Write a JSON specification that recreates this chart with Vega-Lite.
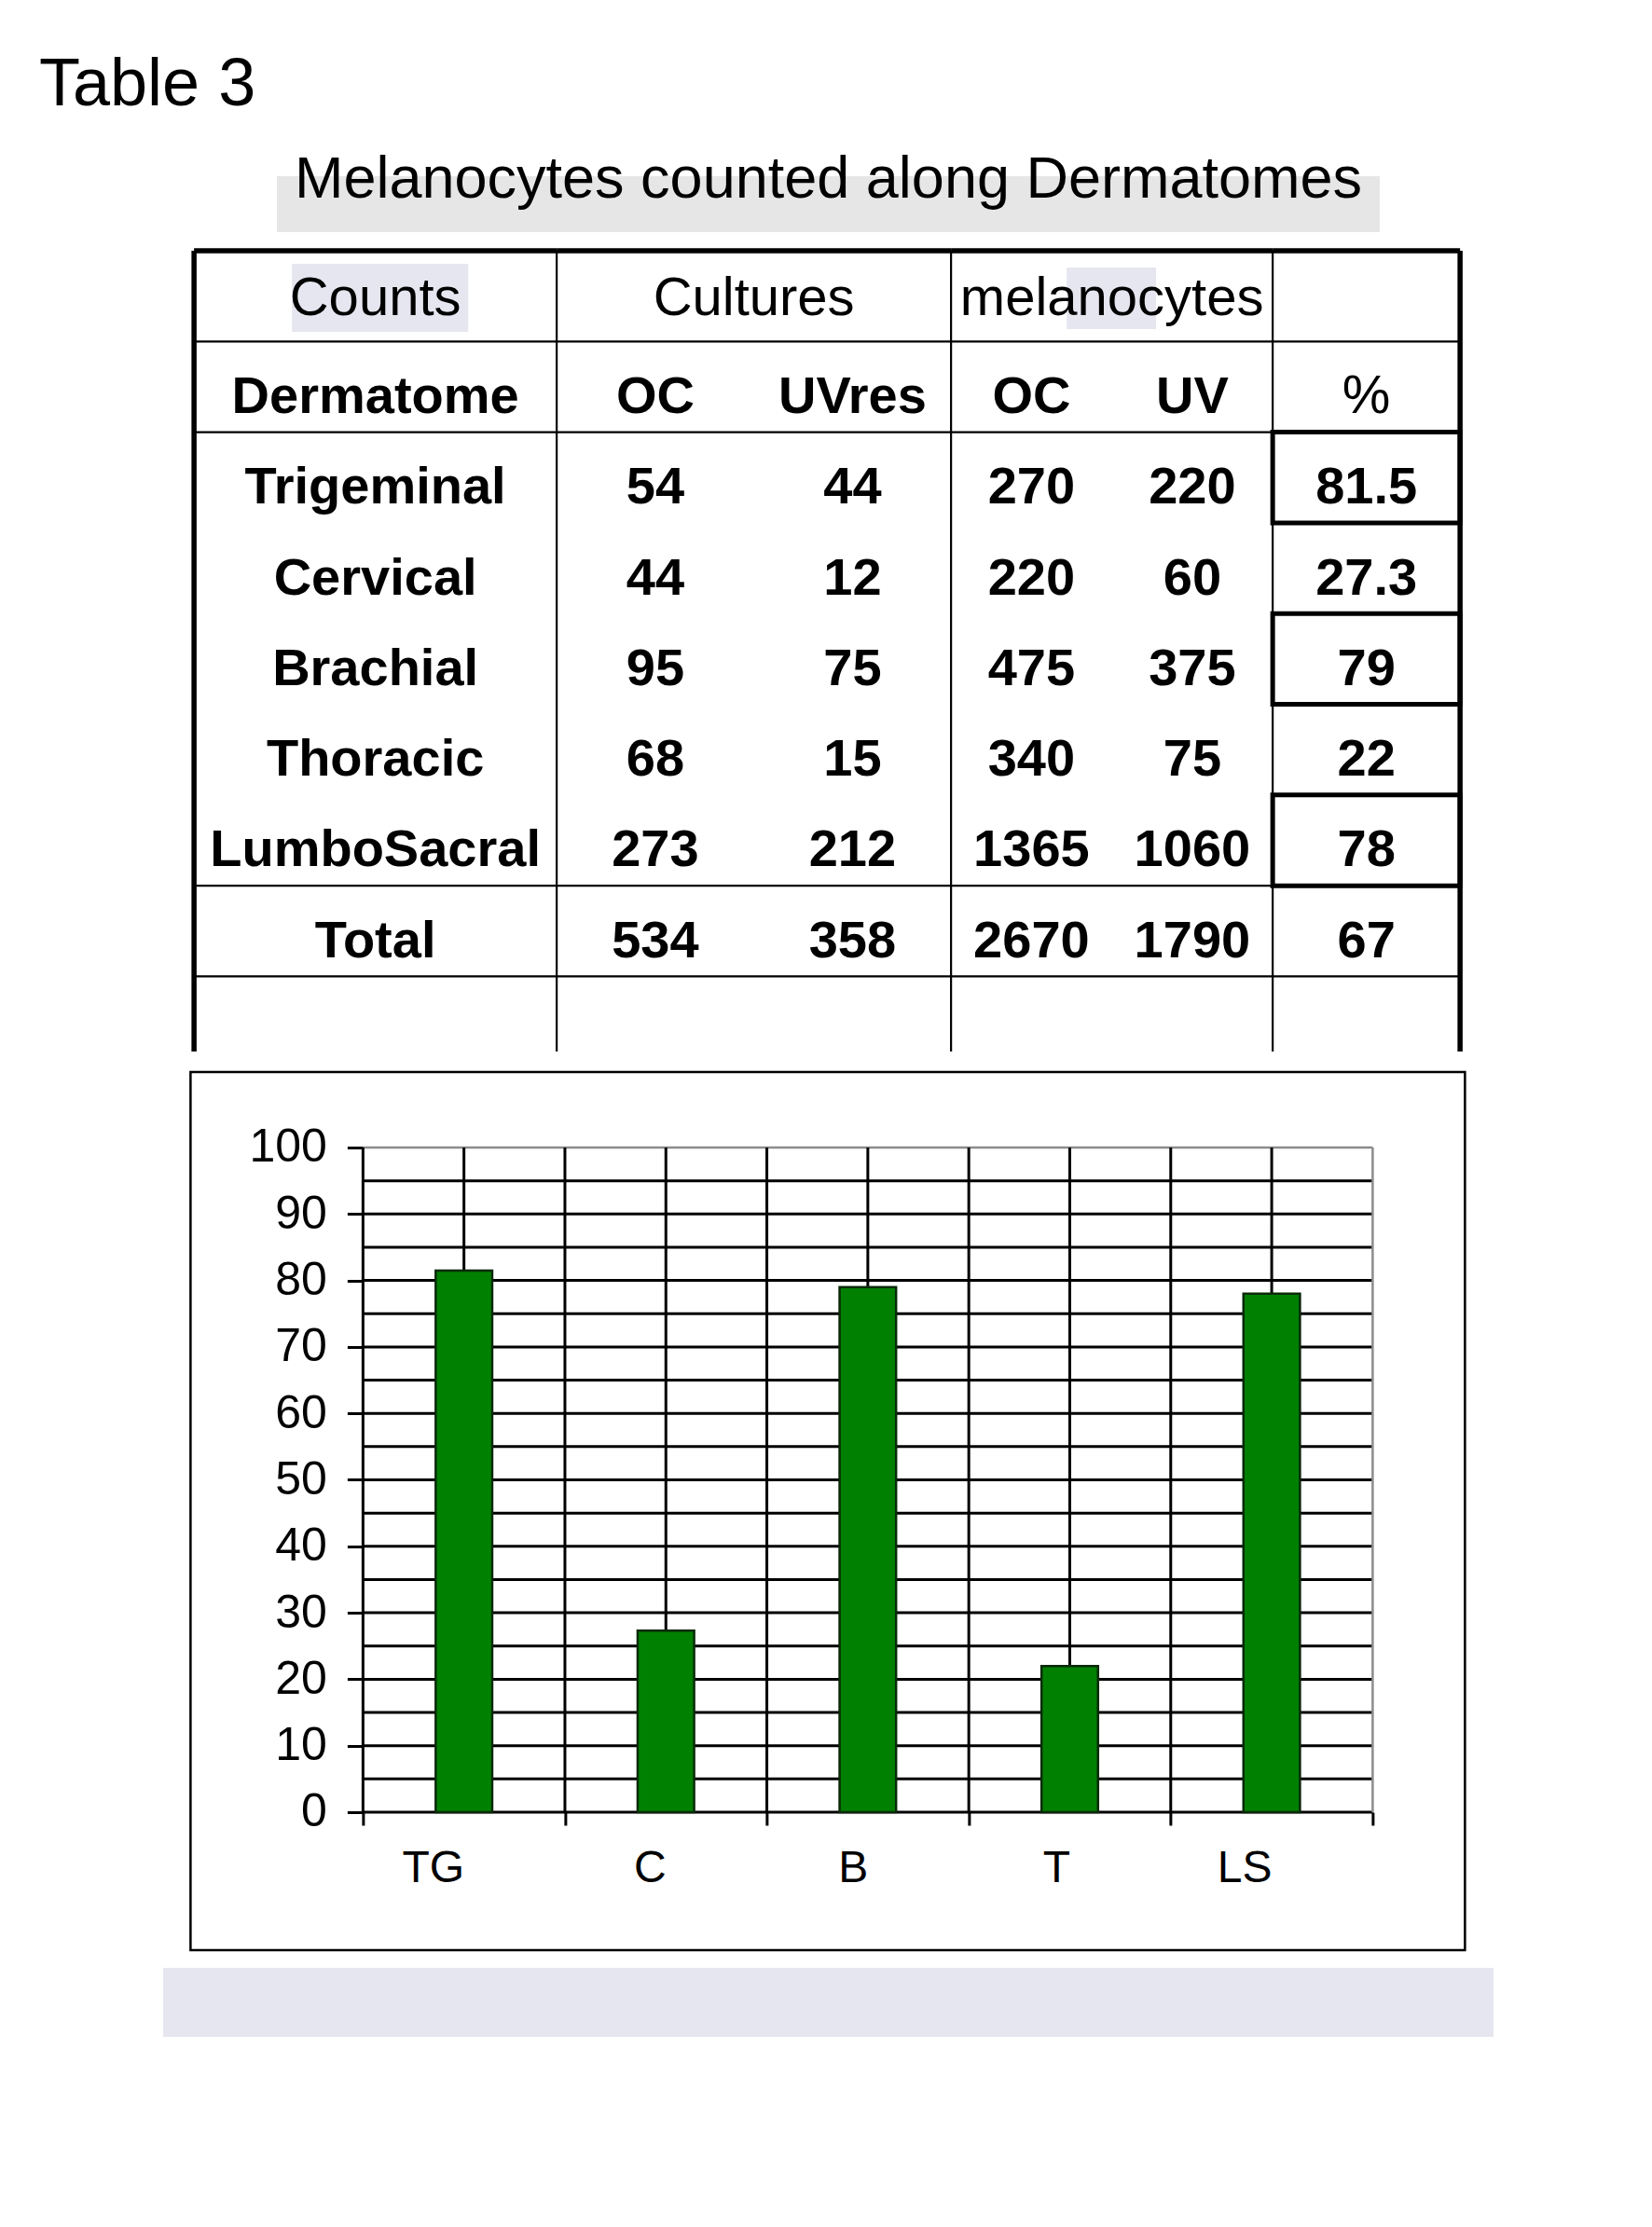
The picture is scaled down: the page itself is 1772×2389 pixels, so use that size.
{
  "$schema": "https://vega.github.io/schema/vega-lite/v6.json",
  "background": "white",
  "padding": {"left": 42, "top": 55, "right": 10, "bottom": 10},
  "config": {"view": {"stroke": null}},
  "title": {
    "text": "Table 3",
    "anchor": "start",
    "frame": "group",
    "dx": -133,
    "offset": 34,
    "font": "Liberation Sans",
    "fontSize": 72,
    "fontWeight": "normal",
    "color": "black"
  },
  "datasets": {
    "table": [
      {"Dermatome": "Dermatome", "culturesOC": "OC", "culturesUVres": "UVres", "melanocytesOC": "OC", "melanocytesUV": "UV", "pct": "%"},
      {"Dermatome": "Trigeminal", "culturesOC": 54, "culturesUVres": 44, "melanocytesOC": 270, "melanocytesUV": 220, "pct": 81.5},
      {"Dermatome": "Cervical", "culturesOC": 44, "culturesUVres": 12, "melanocytesOC": 220, "melanocytesUV": 60, "pct": 27.3},
      {"Dermatome": "Brachial", "culturesOC": 95, "culturesUVres": 75, "melanocytesOC": 475, "melanocytesUV": 375, "pct": 79},
      {"Dermatome": "Thoracic", "culturesOC": 68, "culturesUVres": 15, "melanocytesOC": 340, "melanocytesUV": 75, "pct": 22},
      {"Dermatome": "LumboSacral", "culturesOC": 273, "culturesUVres": 212, "melanocytesOC": 1365, "melanocytesUV": 1060, "pct": 78},
      {"Dermatome": "Total", "culturesOC": 534, "culturesUVres": 358, "melanocytesOC": 2670, "melanocytesUV": 1790, "pct": 67}
    ],
    "bars": [
      {"cat": "TG", "pct": 81.5},
      {"cat": "C", "pct": 27.3},
      {"cat": "B", "pct": 79},
      {"cat": "T", "pct": 22},
      {"cat": "LS", "pct": 78}
    ],
    "grid": [
      {"v": 0}, {"v": 5}, {"v": 10}, {"v": 15}, {"v": 20}, {"v": 25}, {"v": 30},
      {"v": 35}, {"v": 40}, {"v": 45}, {"v": 50}, {"v": 55}, {"v": 60}, {"v": 65},
      {"v": 70}, {"v": 75}, {"v": 80}, {"v": 85}, {"v": 90}, {"v": 95}
    ]
  },
  "vconcat": [
    {
      "width": 1183,
      "height": 60,
      "view": {"fill": "#e6e6e6", "stroke": null},
      "data": {"values": [{"subtitle": "Melanocytes counted along Dermatomes"}]},
      "mark": {"type": "text", "font": "Liberation Sans", "fontSize": 63, "baseline": "alphabetic", "dy": -7, "color": "black"},
      "encoding": {"text": {"field": "subtitle"}}
    },
    {
      "spacing": 0,
      "bounds": "flush",
      "hconcat": [
        {
          "width": 389,
          "height": 859,
          "layer": [
            {
              "data": {"values": [{}]},
              "mark": {"type": "rect", "color": "#e6e6f0"},
              "encoding": {
                "x": {"datum": "Dermatome", "type": "nominal", "bandPosition": 0.27, "scale": {"domain": ["Dermatome"], "paddingInner": 0, "paddingOuter": 0}, "axis": null},
                "x2": {"datum": "Dermatome", "bandPosition": 0.756},
                "y": {"datum": "Counts", "type": "nominal", "bandPosition": 0.144, "scale": {"domain": ["Counts", "Dermatome", "Trigeminal", "Cervical", "Brachial", "Thoracic", "LumboSacral", "Total"], "paddingInner": 0, "paddingOuter": 0.414, "align": 0}, "axis": null},
                "y2": {"datum": "Counts", "bandPosition": 0.894}
              }
            },
            {
              "data": {"values": [{"Dermatome": "Counts"}]},
              "mark": {"type": "text", "font": "Liberation Sans", "fontSize": 58, "baseline": "alphabetic", "dy": 20, "color": "black"},
              "encoding": {
                "y": {"field": "Dermatome", "type": "nominal", "axis": null},
                "text": {"field": "Dermatome"}
              }
            },
            {
              "data": {"name": "table"},
              "mark": {"type": "text", "font": "Liberation Sans", "fontSize": 56, "fontWeight": "bold", "baseline": "alphabetic", "dy": 28, "color": "black"},
              "encoding": {
                "y": {"field": "Dermatome", "type": "nominal", "axis": null},
                "text": {"field": "Dermatome"}
              }
            },
            {
              "data": {"values": [{"Dermatome": "Dermatome"}, {"Dermatome": "Trigeminal"}, {"Dermatome": "Total"}]},
              "mark": {"type": "rule", "color": "black", "strokeWidth": 2.2},
              "encoding": {"y": {"field": "Dermatome", "type": "nominal", "bandPosition": 0, "axis": null}}
            },
            {
              "data": {"values": [{}]},
              "mark": {"type": "rule", "color": "black", "strokeWidth": 2.2},
              "encoding": {"y": {"datum": "Total", "type": "nominal", "bandPosition": 1, "axis": null}}
            },
            {
              "data": {"values": [{}]},
              "mark": {"type": "rule", "color": "black", "strokeWidth": 5.5},
              "encoding": {"y": {"datum": "Counts", "type": "nominal", "bandPosition": 0, "axis": null}}
            },
            {
              "data": {"values": [{}]},
              "mark": {"type": "rule", "color": "black", "strokeWidth": 5.5},
              "encoding": {"x": {"datum": "Dermatome", "type": "nominal", "bandPosition": 0, "axis": null}}
            }
          ]
        },
        {
          "width": 423,
          "height": 859,
          "layer": [
            {
              "data": {"values": [{"Dermatome": "Counts", "label": "Cultures"}]},
              "mark": {"type": "text", "font": "Liberation Sans", "fontSize": 58, "baseline": "alphabetic", "dy": 20, "color": "black"},
              "encoding": {
                "y": {"field": "Dermatome", "type": "nominal", "scale": {"domain": ["Counts", "Dermatome", "Trigeminal", "Cervical", "Brachial", "Thoracic", "LumboSacral", "Total"], "paddingInner": 0, "paddingOuter": 0.414, "align": 0}, "axis": null},
                "text": {"field": "label"}
              }
            },
            {
              "data": {"name": "table"},
              "transform": [{"fold": ["culturesOC", "culturesUVres"], "as": ["column", "value"]}],
              "mark": {"type": "text", "font": "Liberation Sans", "fontSize": 56, "fontWeight": "bold", "baseline": "alphabetic", "dy": 28, "color": "black"},
              "encoding": {
                "x": {"field": "column", "type": "nominal", "scale": {"domain": ["culturesOC", "culturesUVres"], "paddingInner": 0, "paddingOuter": 0}, "axis": null},
                "y": {"field": "Dermatome", "type": "nominal", "axis": null},
                "text": {"field": "value", "type": "nominal"}
              }
            },
            {
              "data": {"values": [{"Dermatome": "Dermatome"}, {"Dermatome": "Trigeminal"}, {"Dermatome": "Total"}]},
              "mark": {"type": "rule", "color": "black", "strokeWidth": 2.2},
              "encoding": {"y": {"field": "Dermatome", "type": "nominal", "bandPosition": 0, "axis": null}}
            },
            {
              "data": {"values": [{}]},
              "mark": {"type": "rule", "color": "black", "strokeWidth": 2.2},
              "encoding": {"y": {"datum": "Total", "type": "nominal", "bandPosition": 1, "axis": null}}
            },
            {
              "data": {"values": [{}]},
              "mark": {"type": "rule", "color": "black", "strokeWidth": 5.5},
              "encoding": {"y": {"datum": "Counts", "type": "nominal", "bandPosition": 0, "axis": null}}
            },
            {
              "data": {"values": [{}]},
              "mark": {"type": "rule", "color": "black", "strokeWidth": 2.2},
              "encoding": {"x": {"datum": "culturesOC", "type": "nominal", "bandPosition": 0, "axis": null}}
            }
          ]
        },
        {
          "width": 345,
          "height": 859,
          "layer": [
            {
              "data": {"values": [{}]},
              "mark": {"type": "rect", "color": "#e6e6f0"},
              "encoding": {
                "x": {"datum": "melanocytesOC", "type": "nominal", "bandPosition": 0.719, "scale": {"domain": ["melanocytesOC", "melanocytesUV"], "paddingInner": 0, "paddingOuter": 0}, "axis": null},
                "x2": {"datum": "melanocytesUV", "bandPosition": 0.275},
                "y": {"datum": "Counts", "type": "nominal", "bandPosition": 0.185, "scale": {"domain": ["Counts", "Dermatome", "Trigeminal", "Cervical", "Brachial", "Thoracic", "LumboSacral", "Total"], "paddingInner": 0, "paddingOuter": 0.414, "align": 0}, "axis": null},
                "y2": {"datum": "Counts", "bandPosition": 0.864}
              }
            },
            {
              "data": {"values": [{"Dermatome": "Counts", "label": "melanocytes"}]},
              "mark": {"type": "text", "font": "Liberation Sans", "fontSize": 58, "baseline": "alphabetic", "dy": 20, "color": "black"},
              "encoding": {
                "y": {"field": "Dermatome", "type": "nominal", "axis": null},
                "text": {"field": "label"}
              }
            },
            {
              "data": {"name": "table"},
              "transform": [{"fold": ["melanocytesOC", "melanocytesUV"], "as": ["column", "value"]}],
              "mark": {"type": "text", "font": "Liberation Sans", "fontSize": 56, "fontWeight": "bold", "baseline": "alphabetic", "dy": 28, "color": "black"},
              "encoding": {
                "x": {"field": "column", "type": "nominal", "axis": null},
                "y": {"field": "Dermatome", "type": "nominal", "axis": null},
                "text": {"field": "value", "type": "nominal"}
              }
            },
            {
              "data": {"values": [{"Dermatome": "Dermatome"}, {"Dermatome": "Trigeminal"}, {"Dermatome": "Total"}]},
              "mark": {"type": "rule", "color": "black", "strokeWidth": 2.2},
              "encoding": {"y": {"field": "Dermatome", "type": "nominal", "bandPosition": 0, "axis": null}}
            },
            {
              "data": {"values": [{}]},
              "mark": {"type": "rule", "color": "black", "strokeWidth": 2.2},
              "encoding": {"y": {"datum": "Total", "type": "nominal", "bandPosition": 1, "axis": null}}
            },
            {
              "data": {"values": [{}]},
              "mark": {"type": "rule", "color": "black", "strokeWidth": 5.5},
              "encoding": {"y": {"datum": "Counts", "type": "nominal", "bandPosition": 0, "axis": null}}
            },
            {
              "data": {"values": [{}]},
              "mark": {"type": "rule", "color": "black", "strokeWidth": 2.2},
              "encoding": {"x": {"datum": "melanocytesOC", "type": "nominal", "bandPosition": 0, "axis": null}}
            }
          ]
        },
        {
          "width": 201,
          "height": 859,
          "layer": [
            {
              "data": {"name": "table"},
              "transform": [{"filter": "datum.Dermatome !== 'Dermatome'"}],
              "mark": {"type": "text", "font": "Liberation Sans", "fontSize": 56, "fontWeight": "bold", "baseline": "alphabetic", "dy": 28, "color": "black"},
              "encoding": {
                "y": {"field": "Dermatome", "type": "nominal", "scale": {"domain": ["Counts", "Dermatome", "Trigeminal", "Cervical", "Brachial", "Thoracic", "LumboSacral", "Total"], "paddingInner": 0, "paddingOuter": 0.414, "align": 0}, "axis": null},
                "text": {"field": "pct", "type": "nominal"}
              }
            },
            {
              "data": {"name": "table"},
              "transform": [{"filter": "datum.Dermatome === 'Dermatome'"}],
              "mark": {"type": "text", "font": "Liberation Sans", "fontSize": 58, "baseline": "alphabetic", "dy": 28, "color": "black"},
              "encoding": {
                "y": {"field": "Dermatome", "type": "nominal", "axis": null},
                "text": {"field": "pct", "type": "nominal"}
              }
            },
            {
              "data": {"values": [{"Dermatome": "Dermatome"}, {"Dermatome": "Trigeminal"}, {"Dermatome": "Total"}]},
              "mark": {"type": "rule", "color": "black", "strokeWidth": 2.2},
              "encoding": {"y": {"field": "Dermatome", "type": "nominal", "bandPosition": 0, "axis": null}}
            },
            {
              "data": {"values": [{}]},
              "mark": {"type": "rule", "color": "black", "strokeWidth": 2.2},
              "encoding": {"y": {"datum": "Total", "type": "nominal", "bandPosition": 1, "axis": null}}
            },
            {
              "data": {"values": [{}]},
              "mark": {"type": "rule", "color": "black", "strokeWidth": 2.2},
              "encoding": {"x": {"datum": "pct", "type": "nominal", "bandPosition": 0, "scale": {"domain": ["pct"], "paddingInner": 0, "paddingOuter": 0}, "axis": null}}
            },
            {
              "data": {"name": "table"},
              "transform": [{"filter": {"field": "Dermatome", "oneOf": ["Trigeminal", "Brachial", "LumboSacral"]}}],
              "mark": {"type": "rect", "filled": false, "color": "black", "strokeWidth": 5},
              "encoding": {
                "x": {"datum": "pct", "type": "nominal", "axis": null},
                "y": {"field": "Dermatome", "type": "nominal", "axis": null}
              }
            },
            {
              "data": {"values": [{}]},
              "mark": {"type": "rule", "color": "black", "strokeWidth": 5.5},
              "encoding": {"y": {"datum": "Counts", "type": "nominal", "bandPosition": 0, "axis": null}}
            },
            {
              "data": {"values": [{}]},
              "mark": {"type": "rule", "color": "black", "strokeWidth": 5.5},
              "encoding": {"x": {"datum": "pct", "type": "nominal", "bandPosition": 1, "axis": null}}
            }
          ]
        }
      ]
    },
    {
      "width": 1367,
      "height": 942,
      "view": {"stroke": "black", "strokeWidth": 2.5},
      "layer": [
        {
          "data": {"name": "grid"},
          "mark": {"type": "rule", "color": "black", "strokeWidth": 3},
          "encoding": {
            "x": {"datum": "TG", "type": "nominal", "bandPosition": 0},
            "x2": {"datum": "LS", "bandPosition": 1},
            "y": {"field": "v", "type": "quantitative", "title": null}
          }
        },
        {
          "data": {"values": [{}]},
          "mark": {"type": "rule", "color": "#8c8c8c", "strokeWidth": 2.5},
          "encoding": {
            "x": {"datum": "TG", "type": "nominal", "bandPosition": 0},
            "x2": {"datum": "LS", "bandPosition": 1},
            "y": {"datum": 100, "type": "quantitative"}
          }
        },
        {
          "data": {"values": [{}]},
          "mark": {"type": "rule", "color": "#8c8c8c", "strokeWidth": 2.5},
          "encoding": {
            "x": {"datum": "LS", "type": "nominal", "bandPosition": 1},
            "y": {"datum": 0, "type": "quantitative"},
            "y2": {"datum": 100}
          }
        },
        {
          "data": {"name": "bars"},
          "mark": {"type": "rule", "color": "black", "strokeWidth": 3},
          "encoding": {
            "x": {"field": "cat", "type": "nominal", "bandPosition": 0, "title": null},
            "y": {"datum": 0, "type": "quantitative"},
            "y2": {"datum": 100}
          }
        },
        {
          "data": {"name": "bars"},
          "mark": {"type": "rule", "color": "black", "strokeWidth": 3},
          "encoding": {
            "x": {"field": "cat", "type": "nominal", "bandPosition": 0.5, "title": null},
            "y": {"datum": 0, "type": "quantitative"},
            "y2": {"datum": 100}
          }
        },
        {
          "data": {"name": "bars"},
          "mark": {"type": "bar", "color": "#008000", "stroke": "#0a2a0a", "strokeWidth": 2.5, "width": {"band": 0.28}},
          "encoding": {
            "x": {
              "field": "cat",
              "type": "nominal",
              "title": null,
              "sort": null,
              "scale": {"domain": ["TG", "C", "B", "T", "LS"], "paddingInner": 0, "paddingOuter": 0.6555, "align": 0.6514},
              "axis": {
                "orient": "bottom",
                "offset": -148,
                "tickBand": "extent",
                "domain": false,
                "grid": false,
                "tickSize": 14,
                "tickWidth": 3,
                "tickColor": "black",
                "labelAngle": 0,
                "labelFont": "Liberation Sans",
                "labelFontSize": 48,
                "labelColor": "black",
                "labelPadding": 46
              }
            },
            "y": {
              "field": "pct",
              "type": "quantitative",
              "title": null,
              "scale": {"domain": [-20.76, 111.36], "nice": false, "zero": false},
              "axis": {
                "orient": "left",
                "offset": -185,
                "values": [0, 10, 20, 30, 40, 50, 60, 70, 80, 90, 100],
                "domain": false,
                "grid": false,
                "tickSize": 17,
                "tickWidth": 3,
                "tickColor": "black",
                "labelFont": "Liberation Sans",
                "labelFontSize": 50,
                "labelColor": "black",
                "labelPadding": 22
              }
            },
            "y2": {"datum": 0}
          }
        }
      ]
    },
    {
      "width": 1427,
      "height": 74,
      "view": {"fill": "#e5e6ef", "stroke": null},
      "data": {"values": [{}]},
      "mark": {"type": "text", "text": " "}
    }
  ],
  "spacing": 17,
  "center": true
}
